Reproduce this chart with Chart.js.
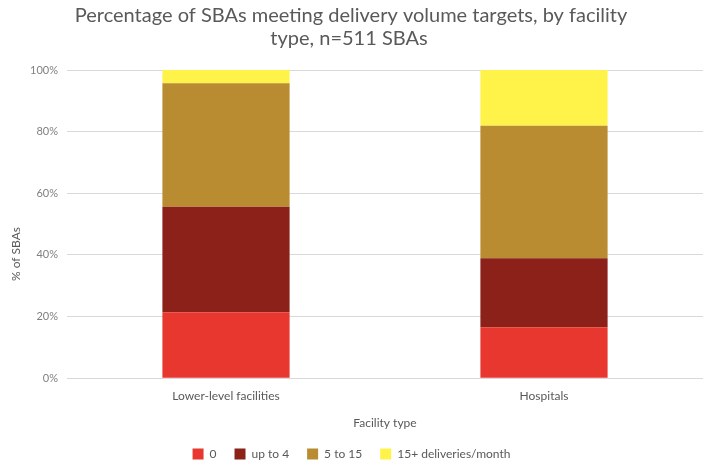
<!DOCTYPE html>
<html lang="en">
<head>
    <meta charset="UTF-8">
    <title>SBAs delivery volume targets</title>
    <script src="https://cdn.jsdelivr.net/npm/chart.js"></script>
    <style>
        body { margin: 0; background: #fff; }
        #wrap { width: 708px; height: 466px; }
    </style>
</head>
<body>
    <div id="wrap"><canvas id="sbaChart" width="708" height="466"></canvas></div>

    <script>
        const facilities = ["Lower-level facilities", "Hospitals"];
        const seriesNames = ["0", "up to 4", "5 to 15", "15+ deliveries/month"];
        const zeroDel = [21.4, 16.5];
        const upTo4 = [34.2, 22.4];
        const fiveTo15 = [40.1, 43.0];
        const over15 = [4.3, 18.1];
        const yTicks = [0, 20, 40, 60, 80, 100];

        const titleLines = ["Percentage of SBAs meeting delivery volume targets, by facility", "type, n=511 SBAs"];
        const yTitle = "% of SBAs";
        const xTitle = "Facility type";

        const grey = '#595959';
        const font = 'Lato, "Open Sans", sans-serif';

        // title and y title drawn by hand so they sit where the original has them
        const textPlugin = {
            id: 'extraText',
            afterDraw(chart) {
                const c = chart.ctx;
                c.save();
                c.fillStyle = grey;
                c.textAlign = 'center';
                c.textBaseline = 'alphabetic';
                c.font = '20px ' + font;
                c.fillText(titleLines[0], 351, 22, 558);
                c.fillText(titleLines[1], 349, 45);
                c.translate(16, 254);
                c.rotate(-Math.PI / 2);
                c.textBaseline = 'middle';
                c.font = '12px ' + font;
                c.fillText(yTitle, 0, 0);
                c.restore();
            }
        };

        const ctx = document.getElementById('sbaChart').getContext('2d');
        const sbaChart = new Chart(ctx, {
            type: 'bar',
            data: {
                labels: facilities,
                datasets: [
                    { label: seriesNames[0], data: zeroDel, backgroundColor: '#E8372F' },
                    { label: seriesNames[1], data: upTo4, backgroundColor: '#8B2119' },
                    { label: seriesNames[2], data: fiveTo15, backgroundColor: '#B98C31' },
                    { label: seriesNames[3], data: over15, backgroundColor: '#FFF34A' }
                ]
            },
            options: {
                responsive: false,
                animation: false,
                layout: { padding: { top: 70, right: 5, bottom: -4, left: 0 } },
                datasets: { bar: { categoryPercentage: 0.8, barPercentage: 0.5 } },
                plugins: {
                    legend: {
                        position: 'bottom',
                        labels: {
                            boxWidth: 11, boxHeight: 11, padding: 18,
                            color: grey, font: { family: font, size: 12 }
                        }
                    },
                    tooltip: { enabled: false }
                },
                scales: {
                    x: {
                        stacked: true,
                        grid: { display: false },
                        border: { display: false },
                        ticks: { color: grey, font: { family: font, size: 12 }, padding: 3 },
                        title: { display: true, text: xTitle, color: grey, font: { family: font, size: 12 }, padding: { top: 9, bottom: 0 } }
                    },
                    y: {
                        stacked: true,
                        min: 0,
                        max: 100,
                        afterBuildTicks: (scale) => { scale.ticks = yTicks.map(v => ({ value: v })); },
                        afterFit: (scale) => { scale.width = 67; },
                        grid: { color: '#d9d9d9', drawTicks: false },
                        border: { display: false },
                        ticks: {
                            color: '#808080', font: { family: font, size: 11 }, padding: 9,
                            callback: (v) => v + '%'
                        }
                    }
                }
            },
            plugins: [textPlugin]
        });
    </script>
</body>
</html>
